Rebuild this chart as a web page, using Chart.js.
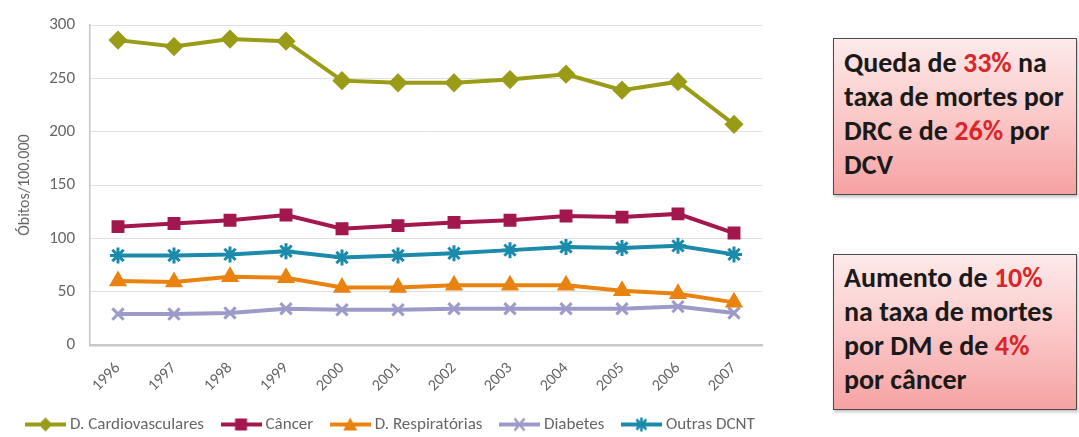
<!DOCTYPE html>
<html>
<head>
<meta charset="utf-8">
<script src="https://cdn.jsdelivr.net/npm/chart.js@4"></script>
<style>
  html, body { margin: 0; padding: 0; background: #fff; }
  body { width: 1079px; height: 437px; position: relative; overflow: hidden; }
  #chart-wrap { position: absolute; left: 0; top: 0; width: 800px; height: 443px; }
  .nota {
    position: absolute;
    left: 833px;
    width: 244px;
    box-sizing: border-box;
    border: 1.5px solid #4a4a4a;
    background: linear-gradient(to bottom, #fdeaea 0%, #fbc8c8 50%, #f6a2a2 100%);
    box-shadow: 1px 2px 3px rgba(0,0,0,0.25);
    font-family: Carlito, Lato, sans-serif;
    font-weight: 700;
    font-size: 28px;
    line-height: 34px;
    color: #1a1a1a;
    padding: 7px 0 0 10px;
    white-space: nowrap;
  }
  .nota b { color: #d9262b; font-weight: 700; }
  #nota-queda { top: 38px; height: 157px; }
  #nota-aumento { top: 254px; height: 156px; padding-top: 6px; }
</style>
</head>
<body>
<div id="chart-wrap"><canvas id="line-chart" width="800" height="443"></canvas></div>
<div class="nota" id="nota-queda">Queda de <b>33%</b> na<br>taxa de mortes por<br>DRC e de <b>26%</b> por<br>DCV</div>
<div class="nota" id="nota-aumento">Aumento de <b>10%</b><br>na taxa de mortes<br>por DM e de <b>4%</b><br>por câncer</div>
<script>
// Anos e taxas de óbito por 100.000 habitantes
const anos = ["1996", "1997", "1998", "1999", "2000", "2001", "2002", "2003", "2004", "2005", "2006", "2007"];
const yTicks = [0, 50, 100, 150, 200, 250, 300];

const cardiovasculares = [286, 280, 287, 285, 248, 246, 246, 249, 254, 239, 247, 207];
const cancer = [111, 114, 117, 122, 109, 112, 115, 117, 121, 120, 123, 105];
const respiratorias = [60, 59, 64, 63, 54, 54, 56, 56, 56, 51, 48, 40];
const diabetes = [29, 29, 30, 34, 33, 33, 34, 34, 34, 34, 36, 30];
const outrasDcnt = [84, 84, 85, 88, 82, 84, 86, 89, 92, 91, 93, 85];

const CORES = {
  cardio: "#9a9b16",
  cancer: "#a3174f",
  resp: "#e9820f",
  diab: "#9c9ac8",
  outras: "#1b8aab",
};

const FONTE = "Carlito, 'Roboto Condensed', sans-serif";
const CINZA = "#666666";

// Ícone da legenda: linha com o marcador no meio
const iconeLegenda = (cor, estilo) => {
  const c = document.createElement("canvas");
  c.width = 41;
  c.height = 16;
  const g = c.getContext("2d");
  g.strokeStyle = cor;
  g.fillStyle = cor;
  g.lineWidth = 4;
  g.beginPath();
  g.moveTo(0, 8);
  g.lineTo(41, 8);
  g.stroke();
  g.lineWidth = 2.5;
  const cx = 20.5, cy = 8, r = 7;
  g.beginPath();
  if (estilo === "rectRot") {
    g.moveTo(cx, cy - r); g.lineTo(cx + r, cy); g.lineTo(cx, cy + r); g.lineTo(cx - r, cy);
    g.closePath(); g.fill();
  } else if (estilo === "rect") {
    g.fillRect(cx - 6, cy - 6, 12, 12);
  } else if (estilo === "triangle") {
    g.moveTo(cx, cy - r); g.lineTo(cx + r, cy + 6); g.lineTo(cx - r, cy + 6);
    g.closePath(); g.fill();
  } else if (estilo === "crossRot") {
    g.moveTo(cx - 5, cy - 6); g.lineTo(cx + 5, cy + 6);
    g.moveTo(cx + 5, cy - 6); g.lineTo(cx - 5, cy + 6);
    g.stroke();
  } else if (estilo === "star") {
    g.moveTo(cx - 5, cy - 5); g.lineTo(cx + 5, cy + 5);
    g.moveTo(cx + 5, cy - 5); g.lineTo(cx - 5, cy + 5);
    g.moveTo(cx, cy - 7); g.lineTo(cx, cy + 7);
    g.stroke();
  }
  return c;
};

const serie = (label, data, cor, estilo, raio) => ({
  label: label,
  data: data,
  borderColor: cor,
  backgroundColor: cor,
  pointBackgroundColor: cor,
  pointBorderColor: cor,
  pointStyle: estilo,
  pointRadius: raio,
  pointBorderWidth: 3,
  borderWidth: 4,
  tension: 0,
  icone: iconeLegenda(cor, estilo),
});

const ctx = document.getElementById("line-chart").getContext("2d");

new Chart(ctx, {
  type: "line",
  data: {
    labels: anos,
    datasets: [
      serie("D. Cardiovasculares", cardiovasculares, CORES.cardio, "rectRot", 7.5),
      serie("Câncer", cancer, CORES.cancer, "rect", 7),
      serie("D. Respiratórias", respiratorias, CORES.resp, "triangle", 7.5),
      serie("Diabetes", diabetes, CORES.diab, "crossRot", 8),
      serie("Outras DCNT", outrasDcnt, CORES.outras, "star", 8),
    ],
  },
  options: {
    responsive: false,
    animation: false,
    layout: { padding: { top: 23, right: 18, left: 8.5, bottom: 0 } },
    scales: {
      x: {
        offset: true,
        grid: { display: false },
        border: { color: "#c8c8c8", width: 2.5 },
        ticks: {
          color: CINZA,
          font: { family: FONTE, size: 16 },
          autoSkip: false,
          minRotation: 45,
          maxRotation: 45,
          padding: 6,
        },
        afterFit: (scale) => { scale.height = 50; },
      },
      y: {
        min: 0,
        max: 300,
        afterBuildTicks: (scale) => { scale.ticks = yTicks.map((v) => ({ value: v })); },
        grid: { color: "#e0e0e0", lineWidth: 1, drawTicks: false },
        border: { color: "#c4c4c4", width: 1.5 },
        ticks: {
          color: CINZA,
          font: { family: FONTE, size: 17 },
          padding: 15,
        },
        title: {
          display: true,
          text: "Óbitos/100.000",
          color: CINZA,
          font: { family: FONTE, size: 16 },
          padding: { top: 7, bottom: 0 },
        },
        afterFit: (scale) => { scale.width = 81.5; },
      },
      // eixo vazio à direita: só reserva espaço, a legenda fica mais larga que o gráfico
      margemDireita: {
        type: "linear",
        position: "right",
        grid: { display: false },
        border: { display: false },
        ticks: { display: false },
        afterFit: (scale) => { scale.width = 20; },
      },
    },
    plugins: {
      legend: {
        position: "bottom",
        align: "start",
        labels: {
          color: CINZA,
          font: { family: FONTE, size: 17 },
          usePointStyle: true,
          pointStyleWidth: 32,
          boxHeight: 16,
          padding: 21,
          generateLabels: (chart) => {
            const itens = Chart.defaults.plugins.legend.labels.generateLabels(chart);
            return itens.map((item) => {
              item.pointStyle = chart.data.datasets[item.datasetIndex].icone;
              return item;
            });
          },
        },
      },
      tooltip: { enabled: false },
    },
  },
});
</script>
</body>
</html>
